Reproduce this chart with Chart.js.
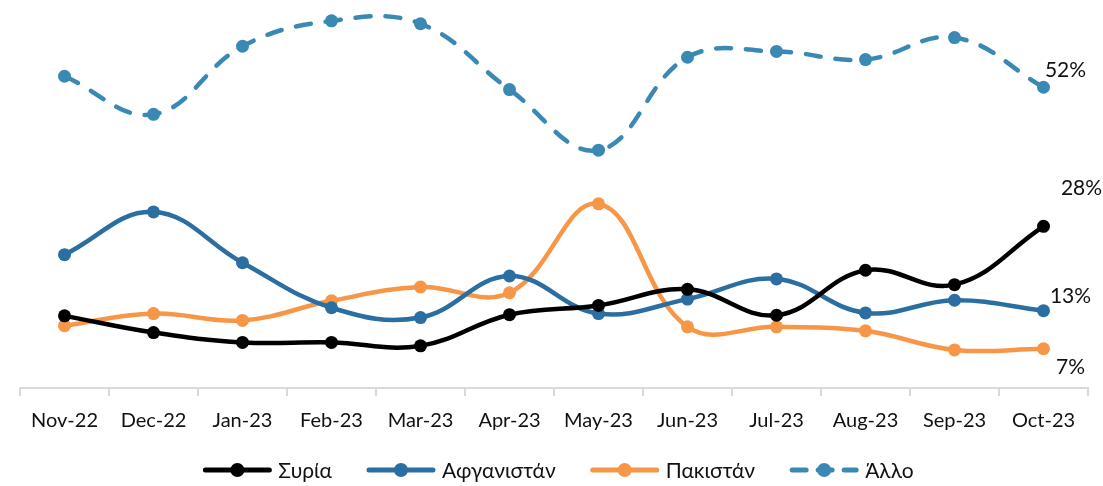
<!DOCTYPE html>
<html>
<head>
<meta charset="utf-8">
<script src="https://cdn.jsdelivr.net/npm/chart.js@4.4.0/dist/chart.umd.min.js"></script>
<style>
  html, body { margin: 0; padding: 0; background: #fff; }
  #wrap { width: 1103px; height: 486px; position: relative; }
</style>
</head>
<body>
<div id="wrap"><canvas id="chart"></canvas></div>
<script>
const months = ['Nov-22', 'Dec-22', 'Jan-23', 'Feb-23', 'Mar-23', 'Apr-23', 'May-23', 'Jun-23', 'Jul-23', 'Aug-23', 'Sep-23', 'Oct-23'];
const syria = [12.5, 9.6, 7.9, 7.9, 7.3, 12.7, 14.3, 17.1, 12.6, 20.4, 17.9, 28.0];
const afghanistan = [23.1, 30.5, 21.7, 13.9, 12.2, 19.4, 12.9, 15.4, 18.9, 13.0, 15.2, 13.4];
const pakistan = [10.8, 12.9, 11.7, 15.1, 17.5, 16.5, 31.9, 10.6, 10.6, 9.9, 6.6, 6.8];
const other = [54.0, 47.4, 59.2, 63.6, 63.1, 51.7, 41.2, 57.3, 58.3, 56.9, 60.7, 52.1];

const FONT = 'Lato, "Open Sans", sans-serif';

function series(label, data, color, dashed, labelOffset) {
    return {
        label, data,
        borderColor: color,
        backgroundColor: color,
        borderWidth: 4.5,
        borderDash: dashed ? [15, 15] : [],
        borderCapStyle: 'round',
        pointRadius: 6.5,
        pointHoverRadius: 6.5,
        pointBorderWidth: 0,
        tension: 0.4,
        clip: false,
        dashed,
        labelOffset
    };
}

// last-value labels next to the final point
const endLabels = {
    id: 'endLabels',
    afterDatasetsDraw(chart) {
        const ctx = chart.ctx;
        ctx.save();
        ctx.font = '21px ' + FONT;
        ctx.fillStyle = '#111';
        ctx.textAlign = 'center';
        ctx.textBaseline = 'middle';
        chart.data.datasets.forEach((ds, i) => {
            const meta = chart.getDatasetMeta(i);
            const last = meta.data[meta.data.length - 1];
            const v = ds.data[ds.data.length - 1];
            ctx.fillText(Math.round(v) + '%', last.x + ds.labelOffset[0], last.y + ds.labelOffset[1]);
        });
        ctx.restore();
    }
};

// legend drawn by hand: long line swatch with a dot, like the office charts
const bottomLegend = {
    id: 'bottomLegend',
    afterDraw(chart) {
        const ctx = chart.ctx;
        const sw = 70, gap = 6, pad = 34, y = 470;
        ctx.save();
        ctx.font = '21px ' + FONT;
        const items = chart.data.datasets.map(ds => ({ ds, w: ctx.measureText(ds.label).width }));
        const total = items.reduce((s, it) => s + sw + gap + it.w, 0) + pad * (items.length - 1);
        let x = 558 - total / 2;
        items.forEach(({ ds, w }) => {
            ctx.strokeStyle = ds.borderColor;
            ctx.fillStyle = ds.borderColor;
            ctx.lineWidth = 5;
            ctx.lineCap = 'round';
            ctx.setLineDash(ds.dashed ? [14, 12] : []);
            ctx.beginPath();
            ctx.moveTo(x + 3, y);
            ctx.lineTo(x + sw - 3, y);
            ctx.stroke();
            ctx.setLineDash([]);
            ctx.beginPath();
            ctx.arc(x + sw / 2, y, 7, 0, Math.PI * 2);
            ctx.fill();
            ctx.fillStyle = '#111';
            ctx.textAlign = 'left';
            ctx.textBaseline = 'middle';
            ctx.fillText(ds.label, x + sw + gap, y + 1);
            x += sw + gap + w + pad;
        });
        ctx.restore();
    }
};

new Chart(document.getElementById('chart'), {
    type: 'line',
    data: {
        labels: months,
        datasets: [
            series('Συρία', syria, '#000000', false, [38, -38]),
            series('Αφγανιστάν', afghanistan, '#2b6ea1', false, [27, -14]),
            series('Πακιστάν', pakistan, '#f79646', false, [27, 18]),
            series('Άλλο', other, '#3a89b4', true, [22, -17])
        ]
    },
    options: {
        responsive: true,
        maintainAspectRatio: false,
        animation: false,
        layout: { padding: { left: 20, right: 15, top: 7, bottom: 40 } },
        scales: {
            x: {
                offset: true,
                grid: {
                    offset: true,
                    drawOnChartArea: false,
                    drawTicks: true,
                    tickLength: 8,
                    color: '#d9d9d9',
                    lineWidth: 2
                },
                border: { color: '#d9d9d9', width: 2 },
                ticks: {
                    color: '#111',
                    font: { family: FONT, size: 20 },
                    padding: 13,
                    maxRotation: 0,
                    autoSkip: false
                }
            },
            y: {
                display: false,
                min: 0,
                max: 66
            }
        },
        plugins: {
            tooltip: { enabled: false },
            legend: { display: false }
        }
    },
    plugins: [endLabels, bottomLegend]
});
</script>
</body>
</html>
